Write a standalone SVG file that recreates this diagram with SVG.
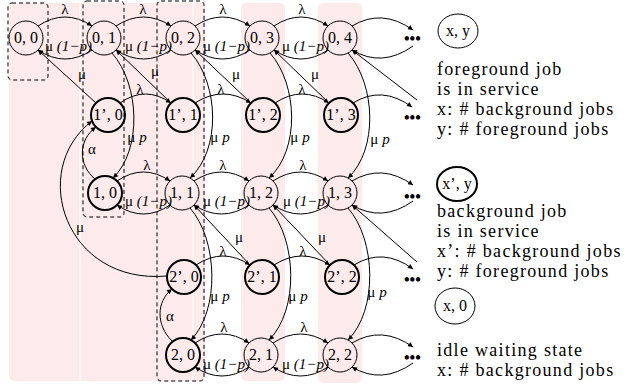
<svg xmlns="http://www.w3.org/2000/svg" width="629" height="390" viewBox="0 0 629 390">
<defs>
<marker id="a" viewBox="0 0 10 10" refX="10" refY="5" markerWidth="7" markerHeight="5" orient="auto" markerUnits="userSpaceOnUse"><path d="M0,0 L10,5 L0,10 z" fill="#000"/></marker>
<style>
text{font-family:"Liberation Serif","Times New Roman",serif;fill:#000}
.nt{font-size:16px;text-anchor:middle}
.lb{font-size:15px;text-anchor:middle}
.ls{font-size:15px}
.lg{font-size:18px;letter-spacing:1.3px}
.dots{font-size:16px;font-weight:bold}
.n{fill:none;stroke:#000;stroke-width:1}
.nb{fill:none;stroke:#000;stroke-width:2}
.e{fill:none;stroke:#000;stroke-width:1;marker-end:url(#a)}
.d{fill:none;stroke:#000;stroke-width:1;stroke-dasharray:4,3}
.pk{fill:#fdeaea}
</style>
</defs>
<g id="background">
<rect class="pk" x="9" y="3" width="196" height="378" rx="5"/>
<rect class="pk" x="241" y="3" width="44" height="378" rx="5"/>
<rect class="pk" x="318" y="3" width="44" height="380" rx="5"/>
<line x1="80" y1="3" x2="80" y2="381" stroke="#fff" stroke-width="1"/>
<line x1="193" y1="3" x2="193" y2="381" stroke="#fff" stroke-width="1"/>
</g>
<g id="groups">
<rect class="d" x="8" y="3" width="40" height="77" rx="4"/>
<rect class="d" x="83" y="1" width="41" height="216" rx="4"/>
<rect class="d" x="157" y="1" width="47" height="380" rx="4"/>
</g>
<g id="connectors">
<path class="e" d="M38,26 Q65,8 92,26"/>
<path class="e" d="M116,26 Q143.5,8 171,26"/>
<path class="e" d="M195,26 Q222.5,8 250,26"/>
<path class="e" d="M274,26 Q301,8 328,26"/>
<path class="e" d="M352,26 Q382,8 413,30"/>
<path class="e" d="M92,50 Q65,68 38,50"/>
<path class="e" d="M171,50 Q143.5,68 116,50"/>
<path class="e" d="M250,50 Q222.5,68 195,50"/>
<path class="e" d="M328,50 Q301,68 274,50"/>
<path class="e" d="M413,46 Q382,68 352,50"/>
<path class="e" d="M120,103 Q145.5,85 171,103"/>
<path class="e" d="M195,103 Q223,85 251,103"/>
<path class="e" d="M275,103 Q302,85 329,103"/>
<path class="e" d="M353,103 Q382,85 412,107"/>
<path class="e" d="M117,181 Q143.5,163 170,181"/>
<path class="e" d="M194,181 Q221.5,163 249,181"/>
<path class="e" d="M273,181 Q300.5,163 328,181"/>
<path class="e" d="M352,181 Q382,163 413,185"/>
<path class="e" d="M170,205 Q143.5,223 117,205"/>
<path class="e" d="M249,205 Q221.5,223 194,205"/>
<path class="e" d="M328,205 Q300.5,223 273,205"/>
<path class="e" d="M413,201 Q382,223 352,205"/>
<path class="e" d="M196,265 Q223,247 250,265"/>
<path class="e" d="M274,265 Q302,247 330,265"/>
<path class="e" d="M354,265 Q383,247 413,269"/>
<path class="e" d="M195,343 Q222,325 249,343"/>
<path class="e" d="M273,343 Q300.5,325 328,343"/>
<path class="e" d="M352,343 Q382,325 413,347"/>
<path class="e" d="M249,367 Q222,385 195,367"/>
<path class="e" d="M328,367 Q300.5,385 273,367"/>
<path class="e" d="M413,363 Q382,385 352,367"/>
<path class="e" d="M96,103 L38,50"/>
<path class="e" d="M171,103 L116,50"/>
<path class="e" d="M251,103 L195,50"/>
<path class="e" d="M329,103 L274,50"/>
<path class="e" d="M417,100 L352,50"/>
<path class="e" d="M250,265 L194,205"/>
<path class="e" d="M330,265 L273,205"/>
<path class="e" d="M417,262 L352,205"/>
<path class="e" d="M112,53 C140,85 142,150 113,178"/>
<path class="e" d="M191,53 C219,85 221,150 190,178"/>
<path class="e" d="M270,53 C298,85 300,150 269,178"/>
<path class="e" d="M348,53 C376,85 378,150 348,178"/>
<path class="e" d="M190,208 C218,240 220,310 191,340"/>
<path class="e" d="M269,208 C297,240 299,310 269,340"/>
<path class="e" d="M348,208 C376,240 378,310 348,340"/>
<path class="e" d="M95,179 C78,165 78,140 96,127"/>
<path class="e" d="M172,341 C156,325 156,302 172,289"/>
<path class="e" d="M167,276 C65,285 28,170 92,121"/>
</g>
<g id="edge-labels">
<text class="lb" x="65" y="14">λ</text>
<text class="lb" x="143" y="14">λ</text>
<text class="lb" x="223" y="14">λ</text>
<text class="lb" x="302" y="14">λ</text>
<text class="lb" x="140" y="94">λ</text>
<text class="lb" x="221" y="94">λ</text>
<text class="lb" x="302" y="94">λ</text>
<text class="lb" x="147" y="170">λ</text>
<text class="lb" x="223" y="170">λ</text>
<text class="lb" x="303" y="170">λ</text>
<text class="lb" x="223" y="256">λ</text>
<text class="lb" x="303" y="256">λ</text>
<text class="lb" x="224" y="332">λ</text>
<text class="lb" x="304" y="332">λ</text>
<text class="ls" x="45" y="51">μ <tspan font-style="italic">(1−p)</tspan></text>
<text class="ls" x="125" y="51">μ <tspan font-style="italic">(1−p)</tspan></text>
<text class="ls" x="203" y="51">μ <tspan font-style="italic">(1−p)</tspan></text>
<text class="ls" x="282" y="51">μ <tspan font-style="italic">(1−p)</tspan></text>
<text class="ls" x="125" y="206">μ <tspan font-style="italic">(1−p)</tspan></text>
<text class="ls" x="203" y="206">μ <tspan font-style="italic">(1−p)</tspan></text>
<text class="ls" x="283" y="206">μ <tspan font-style="italic">(1−p)</tspan></text>
<text class="ls" x="203" y="369">μ <tspan font-style="italic">(1−p)</tspan></text>
<text class="ls" x="282" y="369">μ <tspan font-style="italic">(1−p)</tspan></text>
<text class="lb" x="82" y="79">μ</text>
<text class="lb" x="155" y="76">μ</text>
<text class="lb" x="236" y="79">μ</text>
<text class="lb" x="315" y="79">μ</text>
<text class="lb" x="239" y="242">μ</text>
<text class="lb" x="322" y="242">μ</text>
<text class="lb" x="80" y="232">μ</text>
<text class="lb" x="137" y="142">μ <tspan font-style="italic">p</tspan></text>
<text class="lb" x="220" y="142">μ <tspan font-style="italic">p</tspan></text>
<text class="lb" x="300" y="142">μ <tspan font-style="italic">p</tspan></text>
<text class="lb" x="380" y="144">μ <tspan font-style="italic">p</tspan></text>
<text class="lb" x="220" y="301">μ <tspan font-style="italic">p</tspan></text>
<text class="lb" x="298" y="301">μ <tspan font-style="italic">p</tspan></text>
<text class="lb" x="377" y="297">μ <tspan font-style="italic">p</tspan></text>
<text class="lb" x="92" y="154">α</text>
<text class="lb" x="170" y="321">α</text>
</g>
<g id="n00"><circle class="n" cx="26" cy="38" r="17"/><text class="nt" x="26" y="43">0, 0</text></g>
<g id="n01"><circle class="n" cx="104" cy="38" r="17"/><text class="nt" x="104" y="43">0, 1</text></g>
<g id="n02"><circle class="n" cx="183" cy="38" r="17"/><text class="nt" x="183" y="43">0, 2</text></g>
<g id="n03"><circle class="n" cx="262" cy="38" r="17"/><text class="nt" x="262" y="43">0, 3</text></g>
<g id="n04"><circle class="n" cx="340" cy="38" r="17"/><text class="nt" x="340" y="43">0, 4</text></g>
<g id="n1p0"><circle class="nb" cx="108" cy="115" r="17"/><text class="nt" x="108" y="120">1’, 0</text></g>
<g id="n1p1"><circle class="nb" cx="183" cy="115" r="17"/><text class="nt" x="183" y="120">1’, 1</text></g>
<g id="n1p2"><circle class="nb" cx="263" cy="115" r="17"/><text class="nt" x="263" y="120">1’, 2</text></g>
<g id="n1p3"><circle class="nb" cx="341" cy="115" r="17"/><text class="nt" x="341" y="120">1’, 3</text></g>
<g id="n10"><circle class="nb" cx="105" cy="193" r="17"/><text class="nt" x="105" y="198">1, 0</text></g>
<g id="n11"><circle class="n" cx="182" cy="193" r="17"/><text class="nt" x="182" y="198">1, 1</text></g>
<g id="n12"><circle class="n" cx="261" cy="193" r="17"/><text class="nt" x="261" y="198">1, 2</text></g>
<g id="n13"><circle class="n" cx="340" cy="193" r="17"/><text class="nt" x="340" y="198">1, 3</text></g>
<g id="n2p0"><circle class="nb" cx="184" cy="277" r="17"/><text class="nt" x="184" y="282">2’, 0</text></g>
<g id="n2p1"><circle class="nb" cx="262" cy="277" r="17"/><text class="nt" x="262" y="282">2’, 1</text></g>
<g id="n2p2"><circle class="nb" cx="342" cy="277" r="17"/><text class="nt" x="342" y="282">2’, 2</text></g>
<g id="n20"><circle class="nb" cx="183" cy="355" r="17"/><text class="nt" x="183" y="360">2, 0</text></g>
<g id="n21"><circle class="n" cx="261" cy="355" r="17"/><text class="nt" x="261" y="360">2, 1</text></g>
<g id="n22"><circle class="n" cx="340" cy="355" r="17"/><text class="nt" x="340" y="360">2, 2</text></g>
<g id="ellipses">
<text class="dots" x="404" y="44">•••</text>
<text class="dots" x="404" y="123">•••</text>
<text class="dots" x="404" y="202">•••</text>
<text class="dots" x="404" y="285">•••</text>
<text class="dots" x="404" y="363">•••</text>
</g>
<g id="legend">
<ellipse class="n" cx="458" cy="31" rx="20" ry="17"/><text class="nt" x="458" y="36">x, y</text>
<text class="lg"><tspan x="437" y="75">foreground job</tspan><tspan x="437" y="95">is in service</tspan><tspan x="437" y="115">x: # background jobs</tspan><tspan x="437" y="135">y: # foreground jobs</tspan></text>
<ellipse class="nb" cx="457" cy="184" rx="20" ry="17"/><text class="nt" x="457" y="189">x’, y</text>
<text class="lg"><tspan x="437" y="217">background job</tspan><tspan x="437" y="237">is in service</tspan><tspan x="437" y="257">x’: # background jobs</tspan><tspan x="437" y="277">y: # foreground jobs</tspan></text>
<ellipse class="n" cx="455" cy="306" rx="20" ry="18" stroke-width="1.5"/><text class="nt" x="455" y="311">x, 0</text>
<text class="lg"><tspan x="437" y="356">idle waiting state</tspan><tspan x="437" y="376">x: # background jobs</tspan></text>
</g>
</svg>
